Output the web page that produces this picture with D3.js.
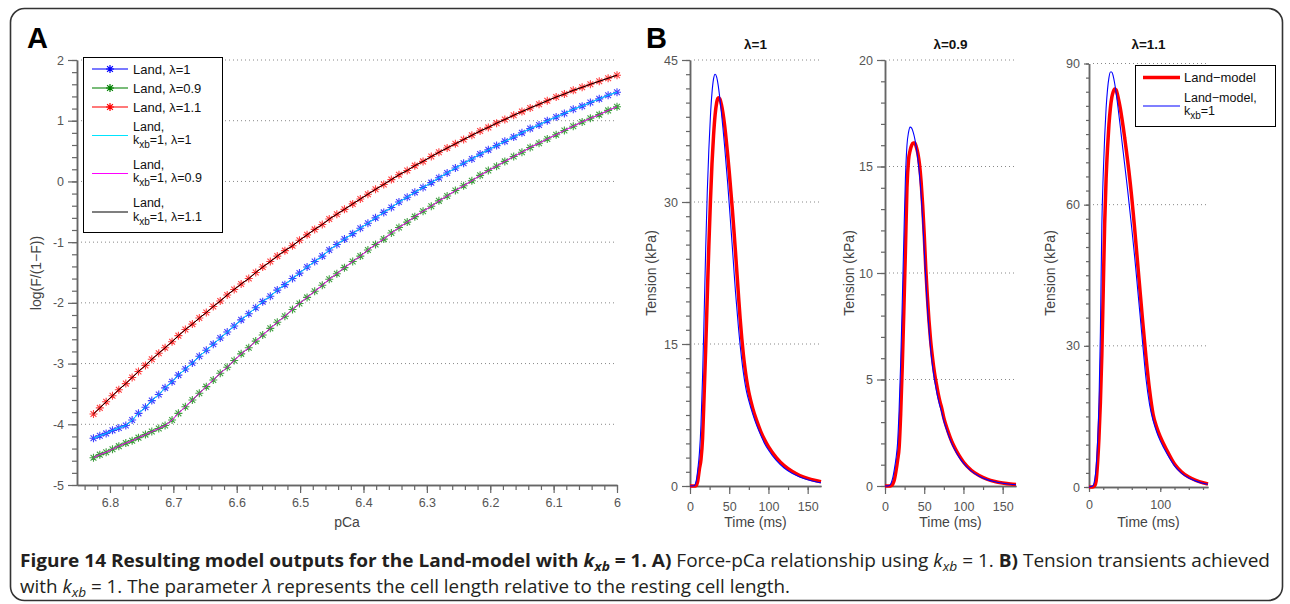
<!DOCTYPE html>
<html>
<head>
<meta charset="utf-8">
<script src="https://cdn.jsdelivr.net/npm/d3@7"></script>
<style>
body { margin: 0; background: #fff; }
svg text { font-family: "Liberation Sans", Arial, sans-serif; }
</style>
</head>
<body>
<svg id="fig" width="1290" height="604"></svg>
<script>
// ---------- Panel A: force-pCa (log(F/(1-F)) vs pCa) ----------
var pCa = [6.826,6.816,6.806,6.796,6.786,6.775,6.765,6.755,6.744,6.734,
           6.723,6.713,6.702,6.692,6.681,6.670,6.659,6.648,6.637,6.626,
           6.615,6.604,6.593,6.581,6.570,6.559,6.547,6.536,6.524,6.512,
           6.501,6.489,6.477,6.465,6.454,6.442,6.430,6.417,6.405,6.393,
           6.381,6.368,6.356,6.344,6.331,6.319,6.306,6.293,6.281,6.268,
           6.255,6.242,6.229,6.216,6.203,6.190,6.177,6.163,6.150,6.137,
           6.123,6.110,6.096,6.083,6.069,6.055,6.042,6.028,6.014,6.000];

var landLam1 = [-4.23,-4.19,-4.15,-4.10,-4.06,-4.02,-3.93,-3.82,-3.72,-3.61,
                -3.51,-3.40,-3.30,-3.19,-3.09,-2.99,-2.88,-2.78,-2.68,-2.58,
                -2.48,-2.38,-2.28,-2.18,-2.08,-1.98,-1.89,-1.79,-1.70,-1.60,
                -1.51,-1.41,-1.32,-1.23,-1.13,-1.04,-0.95,-0.86,-0.77,-0.69,
                -0.60,-0.51,-0.43,-0.34,-0.26,-0.18,-0.10,-0.02,0.06,0.14,
                0.22,0.30,0.37,0.45,0.52,0.59,0.66,0.73,0.80,0.87,
                0.93,1.00,1.06,1.12,1.19,1.24,1.30,1.36,1.42,1.47];

var landLam09 = [-4.55,-4.50,-4.46,-4.41,-4.36,-4.31,-4.27,-4.22,-4.17,-4.12,
                 -4.07,-4.02,-3.93,-3.82,-3.71,-3.60,-3.49,-3.38,-3.27,-3.16,
                 -3.06,-2.95,-2.84,-2.74,-2.63,-2.53,-2.42,-2.32,-2.22,-2.11,
                 -2.01,-1.91,-1.81,-1.71,-1.61,-1.52,-1.42,-1.32,-1.23,-1.13,
                 -1.04,-0.95,-0.85,-0.76,-0.67,-0.58,-0.49,-0.41,-0.32,-0.24,
                 -0.15,-0.07,0.01,0.10,0.18,0.25,0.33,0.41,0.48,0.56,
                 0.63,0.70,0.77,0.84,0.91,0.98,1.04,1.10,1.17,1.23];

var landLam11 = [-3.83,-3.73,-3.63,-3.53,-3.43,-3.33,-3.23,-3.13,-3.03,-2.93,
                 -2.83,-2.74,-2.64,-2.54,-2.44,-2.35,-2.25,-2.16,-2.06,-1.97,
                 -1.87,-1.78,-1.69,-1.60,-1.50,-1.41,-1.32,-1.23,-1.14,-1.06,
                 -0.97,-0.88,-0.79,-0.71,-0.62,-0.54,-0.46,-0.37,-0.29,-0.21,
                 -0.13,-0.05,0.03,0.11,0.18,0.26,0.33,0.41,0.48,0.55,
                 0.62,0.69,0.76,0.83,0.89,0.96,1.02,1.09,1.15,1.21,
                 1.27,1.33,1.39,1.44,1.50,1.55,1.60,1.65,1.70,1.75];

// k_xb = 1 runs sit right on top of the Land runs
var kxbLam1 = landLam1.slice();
var kxbLam09 = landLam09.slice();
var kxbLam11 = landLam11.slice();

var aYTicks = [-5,-4,-3,-2,-1,0,1,2];
var aXTicks = [6.8,6.7,6.6,6.5,6.4,6.3,6.2,6.1,6];

// ---------- Panel B: tension transients ----------
var timeMs = [0,5,8,10,12,14,16,18,20,22,24,26,28,30,32,34,36,38,40,42,44,46,48,50,
              52,54,56,58,60,62,64,66,68,70,72,75,80,85,90,95,100,110,120,130,140,150,160,167];

var tensLam1Land = [0,0,0.05,0.6,1.8,2.8,5.0,9.6,14.5,20,25.3,30,34,
                    37,39.2,40.5,41,40.9,40.3,39.4,38.2,36.7,35,
                    33.2,31.2,29.2,27,24.7,22.3,19.9,17.6,15.6,13.9,
                    12.5,11.3,9.9,8.2,6.9,5.8,4.9,4.15,
                    3.0,2.15,1.55,1.1,0.8,0.58,0.45];
var tensLam1Kxb = [0,0.02,0.6,1.8,3.5,6.5,11.5,18,25,31,35.5,39,41.5,
                   43,43.5,43.2,42.3,41,39.5,37.8,36,34,32,
                   29.8,27.5,25.2,22.8,20.5,18.5,16.5,14.8,13.3,12,
                   10.9,10,9,7.6,6.4,5.4,4.5,3.8,
                   2.7,1.9,1.35,0.95,0.65,0.45,0.35];

var tensLam09Land = [0,0,0.02,0.1,0.3,0.7,1.2,1.8,3.4,5.6,8.2,11,14.0,
                     15.3,15.75,16.0,16.1,16.1,15.9,15.6,15.1,14.3,13.2,
                     11.8,10.2,8.9,7.8,6.9,6.2,5.6,5.1,4.7,4.3,
                     3.97,3.7,3.2,2.6,2.1,1.72,1.4,1.13,
                     0.74,0.49,0.32,0.21,0.14,0.09,0.07];
var tensLam09Kxb = [0,0.01,0.15,0.4,0.8,1.3,2.0,3.6,5.8,8.6,11.6,14.4,16.0,
                    16.6,16.85,16.8,16.6,16.3,15.85,15.3,14.6,13.7,12.5,
                    11.1,9.7,8.4,7.4,6.5,5.8,5.25,4.8,4.4,4.05,
                    3.75,3.5,3.05,2.48,2.0,1.63,1.32,1.07,
                    0.7,0.46,0.3,0.2,0.13,0.08,0.06];

var tensLam11Land = [0,0,0.3,1.3,5,10.5,18,28,42,56,65.5,72,77,
                     80.5,82.8,84,84.6,84.4,83.4,82,80.4,78.5,76.5,
                     74.3,72,69.6,67.1,64.4,61.5,58.3,55,51.5,48,
                     44.5,41,35.8,27.6,20.6,15.4,12.7,10.7,
                     7.6,4.9,3.2,2.1,1.4,0.9,0.65];
var tensLam11Kxb = [0,0.2,1.6,4.2,9.5,18,33,55.5,66.5,74.5,80.5,84.5,87,
                    88.2,88.2,87.3,85.8,83.8,81.5,79,76.5,73.8,71.2,
                    68.6,66,63.4,60.6,57.8,55,52,49,45.8,42.5,
                    39.2,36,31,23,17.5,14.1,11.7,9.8,
                    6.9,4.5,2.9,1.9,1.25,0.8,0.6];

var bTitles = ["λ=1", "λ=0.9", "λ=1.1"];
var bYTicks = [[0,15,30,45], [0,5,10,15,20], [0,30,60,90]];
var bXTicks = [[0,50,100,150], [0,50,100,150], [0,100]];

// ---------- drawing ----------
var svg = d3.select("#fig");
var axisColor = "#666";
var tickColor = "#555";
var gridColor = "#888";
var starPath = "M-4,0H4M0,-4V4M-2.9,-2.9L2.9,2.9M-2.9,2.9L2.9,-2.9";

// outer frame of the figure
svg.append("rect")
    .attr("x", 10.5).attr("y", 8.5)
    .attr("width", 1272).attr("height", 592)
    .attr("rx", 14)
    .attr("fill", "none")
    .attr("stroke", "#333")
    .attr("stroke-width", 1.6);

function drawAxis(parent, axis, tx, ty, fontSize) {
    var a = parent.append("g")
        .attr("transform", "translate(" + tx + "," + ty + ")")
        .call(axis);
    a.attr("font-size", fontSize || 12.5).attr("font-family", null);
    a.select(".domain").attr("stroke", axisColor).attr("stroke-width", 1.5);
    a.selectAll(".tick line").attr("stroke", axisColor).attr("stroke-width", 1.2);
    a.selectAll(".tick text").attr("fill", tickColor);
    return a;
}

function gridLines(parent, values, x0, x1, yScale) {
    parent.append("g").selectAll("line")
        .data(values)
        .join("line")
        .attr("x1", x0).attr("x2", x1)
        .attr("y1", d => yScale(d)).attr("y2", d => yScale(d))
        .attr("stroke", gridColor)
        .attr("stroke-width", 1)
        .attr("stroke-dasharray", "1,3");
}

// ===== Panel A =====
var ax = {left: 77, right: 617, top: 60, bottom: 485};
var xA = d3.scaleLinear().domain([6.852, 6]).range([ax.left, ax.right]);
var yA = d3.scaleLinear().domain([-5, 2]).range([ax.bottom, ax.top]);
var gA = svg.append("g");

gridLines(gA, aYTicks.slice(1), ax.left + 4, ax.right - 3, yA);

// minor + major ticks
drawAxis(gA, d3.axisLeft(yA).tickValues(d3.range(-5, 2.001, 0.2)).tickSize(5).tickSizeOuter(0).tickFormat(""), ax.left, 0);
drawAxis(gA, d3.axisLeft(yA).tickValues(aYTicks).tickSize(9).tickSizeOuter(0).tickPadding(4).tickFormat(d => String(d)), ax.left, 0);
drawAxis(gA, d3.axisBottom(xA).tickValues(d3.range(6, 6.85, 0.02)).tickSize(5).tickSizeOuter(0).tickFormat(""), 0, ax.bottom);
drawAxis(gA, d3.axisBottom(xA).tickValues(aXTicks).tickSize(8).tickSizeOuter(0).tickPadding(5).tickFormat(d => String(+d.toFixed(1))), 0, ax.bottom);

var lineA = d3.line()
    .x(d => xA(d[0]))
    .y(d => yA(d[1]));

var markedSeries = [
    {vals: landLam1, color: "#0000ff"},
    {vals: landLam09, color: "#008000"},
    {vals: landLam11, color: "#ff0000"}
];
var plainSeries = [
    {vals: kxbLam1, color: "#00e5ff"},
    {vals: kxbLam09, color: "#ff00ff"},
    {vals: kxbLam11, color: "#000000"}
];

markedSeries.forEach(function (s) {
    var pts = d3.zip(pCa, s.vals);
    gA.append("path")
        .attr("d", lineA(pts))
        .attr("fill", "none")
        .attr("stroke", s.color)
        .attr("stroke-width", 1);
    gA.append("g").selectAll("path")
        .data(pts)
        .join("path")
        .attr("transform", d => "translate(" + xA(d[0]) + "," + yA(d[1]) + ")")
        .attr("d", starPath)
        .attr("fill", "none")
        .attr("stroke", s.color)
        .attr("stroke-opacity", 0.75)
        .attr("stroke-width", 1.1);
});
plainSeries.forEach(function (s) {
    gA.append("path")
        .attr("d", lineA(d3.zip(pCa, s.vals)))
        .attr("fill", "none")
        .attr("stroke", s.color)
        .attr("stroke-width", 1);
});

// axis labels
gA.append("text")
    .attr("x", (ax.left + ax.right) / 2).attr("y", 527)
    .attr("text-anchor", "middle")
    .attr("font-size", 14).attr("fill", "#444")
    .text("pCa");
gA.append("text")
    .attr("transform", "translate(41," + 273 + ") rotate(-90)")
    .attr("text-anchor", "middle")
    .attr("font-size", 14).attr("fill", "#444")
    .text("log(F/(1−F))");

// legend A
var legA = gA.append("g");
legA.append("rect")
    .attr("x", 83.5).attr("y", 57.5).attr("width", 139).attr("height", 175)
    .attr("fill", "#fff").attr("stroke", "#000").attr("stroke-width", 1);

var legEntries = [
    {color: "#0000ff", marker: true, y: 69, lines: [["Land, λ=1"]]},
    {color: "#008000", marker: true, y: 88, lines: [["Land, λ=0.9"]]},
    {color: "#ff0000", marker: true, y: 107, lines: [["Land, λ=1.1"]]},
    {color: "#00e5ff", marker: false, y: 135.5, lines: [["Land,"], ["k", "xb", "=1, λ=1"]]},
    {color: "#ff00ff", marker: false, y: 173.5, lines: [["Land,"], ["k", "xb", "=1, λ=0.9"]]},
    {color: "#000000", marker: false, y: 212, lines: [["Land,"], ["k", "xb", "=1, λ=1.1"]]}
];
legEntries.forEach(function (e) {
    legA.append("line")
        .attr("x1", 92).attr("x2", 128).attr("y1", e.y).attr("y2", e.y)
        .attr("stroke", e.color).attr("stroke-width", e.marker ? 1.3 : 1.1)
        .attr("stroke-opacity", e.marker ? 0.7 : 1);
    if (e.marker) {
        legA.append("path")
            .attr("transform", "translate(110," + e.y + ")")
            .attr("d", starPath)
            .attr("fill", "none").attr("stroke", e.color).attr("stroke-width", 1.2);
    }
    if (e.lines.length === 1) {
        legA.append("text").attr("x", 133).attr("y", e.y + 4.5)
            .attr("font-size", 13).attr("fill", "#111").text(e.lines[0][0]);
    } else {
        legA.append("text").attr("x", 133).attr("y", e.y - 5)
            .attr("font-size", 12.5).attr("fill", "#111").text(e.lines[0][0]);
        var t = legA.append("text").attr("x", 133).attr("y", e.y + 8.5)
            .attr("font-size", 12.5).attr("fill", "#111");
        t.append("tspan").text(e.lines[1][0]);
        t.append("tspan").attr("dy", 4).attr("font-size", 10).text(e.lines[1][1]);
        t.append("tspan").attr("dy", -4).text(e.lines[1][2]);
    }
});

svg.append("text")
    .attr("x", 27).attr("y", 48)
    .attr("font-size", 29).attr("font-weight", "bold").attr("fill", "#000")
    .text("A");

// ===== Panel B =====
svg.append("text")
    .attr("x", 646).attr("y", 48)
    .attr("font-size", 29).attr("font-weight", "bold").attr("fill", "#000")
    .text("B");

var bPanels = [
    {x0: 690, x1: 821, top: 60, bottom: 486, yMax: 45, minorY: 1.5, minorX: 25, tMaj: 8, tMin: 4,
     labelX: 656, land: tensLam1Land, kxb: tensLam1Kxb},
    {x0: 885, x1: 1016, top: 60, bottom: 486, yMax: 20, minorY: 1, minorX: 25, tMaj: 8, tMin: 4,
     labelX: 854, land: tensLam09Land, kxb: tensLam09Kxb},
    {x0: 1089, x1: 1208, top: 63.5, bottom: 487, yMax: 90, minorY: 3, minorX: 20, tMaj: 5, tMin: 3,
     labelX: 1055, land: tensLam11Land, kxb: tensLam11Kxb}
];

bPanels.forEach(function (p, i) {
    var g = svg.append("g");
    var x = d3.scaleLinear().domain([0, 167]).range([p.x0, p.x1]);
    var y = d3.scaleLinear().domain([0, p.yMax]).range([p.bottom, p.top]);

    gridLines(g, bYTicks[i].slice(1), p.x0 + 4, p.x1 - 1, y);

    drawAxis(g, d3.axisLeft(y).tickValues(d3.range(0, p.yMax + 0.001, p.minorY)).tickSize(p.tMin).tickSizeOuter(0).tickFormat(""), p.x0, 0);
    drawAxis(g, d3.axisLeft(y).tickValues(bYTicks[i]).tickSize(p.tMaj).tickSizeOuter(0).tickPadding(4), p.x0, 0);
    drawAxis(g, d3.axisBottom(x).tickValues(d3.range(0, 167, p.minorX)).tickSize(p.tMin).tickSizeOuter(0).tickFormat(""), 0, p.bottom);
    drawAxis(g, d3.axisBottom(x).tickValues(bXTicks[i]).tickSize(p.tMaj).tickSizeOuter(0).tickPadding(8), 0, p.bottom);

    var line = d3.line()
        .x(d => x(d[0]))
        .y(d => y(d[1]))
        .curve(d3.curveMonotoneX);

    g.append("path")
        .attr("d", line(d3.zip(timeMs, p.land)))
        .attr("fill", "none").attr("stroke", "#ff0000").attr("stroke-width", 3.5)
        .attr("stroke-linejoin", "round");
    g.append("path")
        .attr("d", line(d3.zip(timeMs, p.kxb)))
        .attr("fill", "none").attr("stroke", "#0000ff").attr("stroke-width", 1.1);

    var cx = (p.x0 + p.x1) / 2;
    g.append("text")
        .attr("x", cx).attr("y", 49)
        .attr("text-anchor", "middle")
        .attr("font-size", 13.5).attr("font-weight", "bold").attr("fill", "#111")
        .text(bTitles[i]);
    g.append("text")
        .attr("x", cx).attr("y", 527)
        .attr("text-anchor", "middle")
        .attr("font-size", 14).attr("fill", "#444")
        .text("Time (ms)");
    g.append("text")
        .attr("transform", "translate(" + p.labelX + ",273) rotate(-90)")
        .attr("text-anchor", "middle")
        .attr("font-size", 14).attr("fill", "#444")
        .text("Tension (kPa)");
});

// legend B (inside λ=1.1 panel)
var legB = svg.append("g");
legB.append("rect")
    .attr("x", 1135.5).attr("y", 65.5).attr("width", 140).attr("height", 61)
    .attr("fill", "#fff").attr("stroke", "#000").attr("stroke-width", 1);
legB.append("line")
    .attr("x1", 1143).attr("x2", 1180).attr("y1", 77.5).attr("y2", 77.5)
    .attr("stroke", "#ff0000").attr("stroke-width", 3.5);
legB.append("text").attr("x", 1184).attr("y", 82)
    .attr("font-size", 13).attr("fill", "#111").text("Land−model");
legB.append("line")
    .attr("x1", 1143).attr("x2", 1180).attr("y1", 106).attr("y2", 106)
    .attr("stroke", "#0000ff").attr("stroke-width", 1.1);
legB.append("text").attr("x", 1184).attr("y", 101.5)
    .attr("font-size", 12.5).attr("fill", "#111").text("Land−model,");
var kt = legB.append("text").attr("x", 1184).attr("y", 115)
    .attr("font-size", 12.5).attr("fill", "#111");
kt.append("tspan").text("k");
kt.append("tspan").attr("dy", 4).attr("font-size", 10).text("xb");
kt.append("tspan").attr("dy", -4).text("=1");

// ===== caption =====
var cap1 = svg.append("text")
    .attr("x", 20).attr("y", 567)
    .attr("font-size", 18)
    .attr("fill", "#231f20")
    .attr("textLength", 1250)
    .attr("lengthAdjust", "spacingAndGlyphs")
    .style("font-family", "'Open Sans', 'Liberation Sans', sans-serif");
var parts1 = [
    {t: "Figure 14 Resulting model outputs for the Land-model with ", w: "bold"},
    {t: "k", w: "bold", i: true},
    {t: "xb", w: "bold", i: true, sub: true},
    {t: " = 1. A)", w: "bold"},
    {t: " Force-pCa relationship using "},
    {t: "k", i: true},
    {t: "xb", i: true, sub: true},
    {t: " = 1. "},
    {t: "B)", w: "bold"},
    {t: " Tension transients achieved"}
];
var parts2 = [
    {t: "with "},
    {t: "k", i: true},
    {t: "xb", i: true, sub: true},
    {t: " = 1. The parameter "},
    {t: "λ", i: true},
    {t: " represents the cell length relative to the resting cell length."}
];
function addParts(textSel, parts) {
    var shifted = false;
    parts.forEach(function (p) {
        var ts = textSel.append("tspan").text(p.t);
        if (p.w) ts.attr("font-weight", p.w);
        if (p.i) ts.attr("font-style", "italic");
        if (p.sub) { ts.attr("dy", 4).attr("font-size", 13); shifted = true; }
        else if (shifted) { ts.attr("dy", -4); shifted = false; }
    });
}
addParts(cap1, parts1);

var cap2 = svg.append("text")
    .attr("x", 20).attr("y", 593)
    .attr("font-size", 18)
    .attr("fill", "#231f20")
    .attr("textLength", 770)
    .attr("lengthAdjust", "spacingAndGlyphs")
    .style("font-family", "'Open Sans', 'Liberation Sans', sans-serif");
addParts(cap2, parts2);
</script>
</body>
</html>
